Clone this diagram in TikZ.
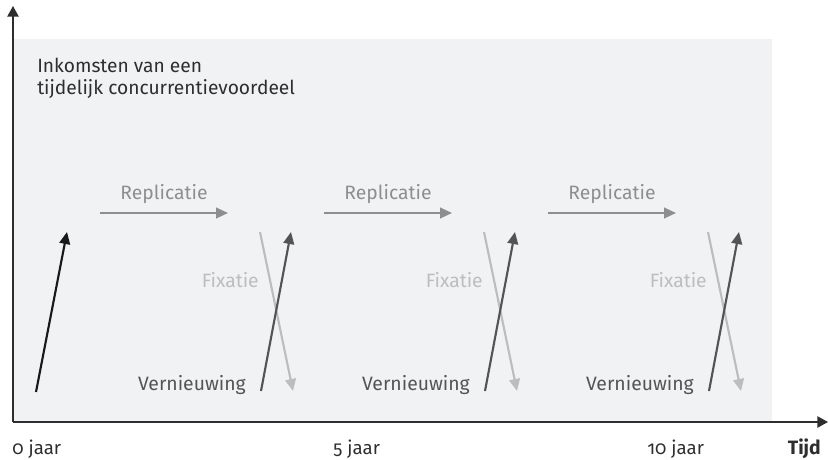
\documentclass[tikz,border=0pt]{standalone}
\usepackage{fontspec}
\setmainfont{Fira Sans}[Numbers=OldStyle]
\usepackage{tikz}
\usetikzlibrary{arrows.meta}

\definecolor{panel}{HTML}{F1F2F4}
\definecolor{repgray}{HTML}{8E8E8E}
\definecolor{fixgray}{HTML}{BDBDBD}
\definecolor{vergray}{HTML}{545454}
\definecolor{tekst}{HTML}{2E2E2E}

\tikzset{
  pijl/.style={line width=1.6pt, -{Triangle[length=9pt,width=8pt]}},
  as/.style={line width=1.1pt, -{Triangle[length=8pt,width=8.5pt]}},
  lbl/.style={inner sep=0, font=\fontsize{14.5}{16}\selectfont},
  aslbl/.style={inner sep=0, text=tekst, font=\fontsize{14}{16}\selectfont}
}

\begin{document}
\begin{tikzpicture}[x=0.75pt, y=-0.75pt]
      \useasboundingbox (0,0) rectangle (828,460);
      \fill[panel] (13,39) rectangle (772,422);
      % assen
      \node[minimum size=0, inner sep=0] (O) at (13,422) {};
      \coordinate (ytop) at (13,6);
      \coordinate (xend) at (828,422);
      \draw[as, tekst] (O.center) -- (ytop);
      \draw[as, tekst] (O.center) -- (xend);
      \node[inner sep=0, text=tekst, anchor=base west, align=left, font=\fontsize{14.4}{15.8}\selectfont] (titel) at (37,94) {Inkomsten van een\\tijdelijk concurrentievoordeel};
      \node[aslbl, anchor=base west] (t0) at (12,454) {0 jaar};
      \node[aslbl, anchor=base west] (t5) at (333,454) {5 jaar};
      \node[aslbl, anchor=base west] (t10) at (647,454) {10 jaar};
      \node[aslbl, anchor=base east, font=\fontsize{14.5}{16}\selectfont\bfseries] (tijd) at (821,454) {Tijd};
      % start
      \coordinate (s0) at (36,392);
      \coordinate (s1) at (67,232);
      \draw[pijl, black!90] (s0) -- (s1);
      % groep 1
      \coordinate (r1a) at (100,213);
      \coordinate (r1b) at (228,213);
      \coordinate (f1a) at (260,232);
      \coordinate (f1b) at (293,391);
      \coordinate (v1a) at (261,391);
      \coordinate (v1b) at (291,232);
      \draw[pijl, repgray] (r1a) -- (r1b) node[lbl, midway, above=6.5pt, text=repgray] (rep1) {Replicatie};
      \draw[pijl, fixgray] (f1a) -- (f1b);
      \draw[pijl, vergray] (v1a) -- (v1b);
      \node[lbl, anchor=base east, text=fixgray] (fix1) at (259,287) {Fixatie};
      \node[lbl, anchor=base east, text=vergray] (ver1) at (246,390) {Vernieuwing};
      % groep 2
      \coordinate (r2a) at (324,213);
      \coordinate (r2b) at (452,213);
      \coordinate (f2a) at (484,232);
      \coordinate (f2b) at (517,391);
      \coordinate (v2a) at (485,391);
      \coordinate (v2b) at (515,232);
      \draw[pijl, repgray] (r2a) -- (r2b) node[lbl, midway, above=6.5pt, text=repgray] (rep2) {Replicatie};
      \draw[pijl, fixgray] (f2a) -- (f2b);
      \draw[pijl, vergray] (v2a) -- (v2b);
      \node[lbl, anchor=base east, text=fixgray] (fix2) at (483,287) {Fixatie};
      \node[lbl, anchor=base east, text=vergray] (ver2) at (470,390) {Vernieuwing};
      % groep 3
      \coordinate (r3a) at (548,213);
      \coordinate (r3b) at (676,213);
      \coordinate (f3a) at (708,232);
      \coordinate (f3b) at (741,391);
      \coordinate (v3a) at (709,391);
      \coordinate (v3b) at (739,232);
      \draw[pijl, repgray] (r3a) -- (r3b) node[lbl, midway, above=6.5pt, text=repgray] (rep3) {Replicatie};
      \draw[pijl, fixgray] (f3a) -- (f3b);
      \draw[pijl, vergray] (v3a) -- (v3b);
      \node[lbl, anchor=base east, text=fixgray] (fix3) at (707,287) {Fixatie};
      \node[lbl, anchor=base east, text=vergray] (ver3) at (694,390) {Vernieuwing};
\end{tikzpicture}
\end{document}
